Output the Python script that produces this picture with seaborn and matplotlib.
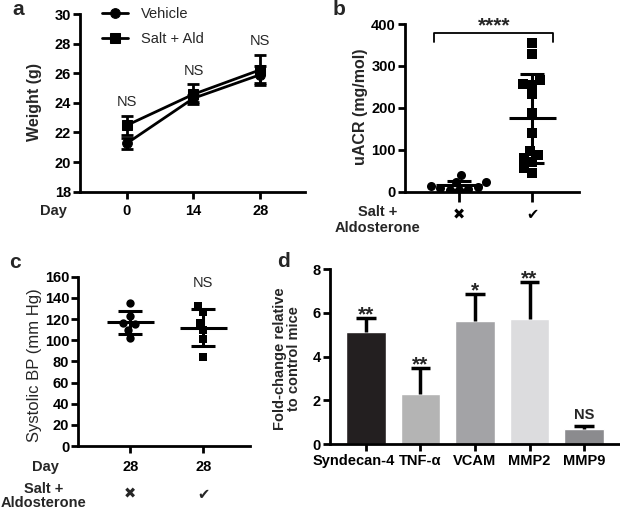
import numpy as np
import pandas as pd
import matplotlib
matplotlib.use("Agg")
import matplotlib.pyplot as plt
import matplotlib.transforms as mtransforms
import seaborn as sns

# a: body weight
days = [0, 14, 28]
vehicle_wt = [21.26, 24.31, 25.90]
vehicle_err = [0.38, 0.25, 0.57]
salt_wt = [22.48, 24.58, 26.23]
salt_err = [0.66, 0.68, 1.00]

# b: uACR
uacr_vehicle = [40, 23, 22, 14, 11, 9, 7, 5, 3]
uacr_salt = [355, 328, 266, 256, 254, 232, 188, 139, 98, 87, 80, 70, 56, 44]

# c: systolic BP at day 28
bp_vehicle = [134.8, 122.8, 116.5, 115.0, 110.0, 102.4]
bp_salt = [132.6, 126.3, 116.5, 109.3, 100.8, 84.4]

# d: fold change
genes = ["Syndecan-4", "TNF-α", "VCAM", "MMP2", "MMP9"]
fold_change = [5.15, 2.29, 5.62, 5.71, 0.67]
fold_err = [0.64, 1.21, 1.27, 1.73, 0.14]
gene_colors = ["#231f20", "#b4b4b4", "#a3a3a6", "#dcdcde", "#8b8b8e"]
gene_sig = ["**", "**", "*", "**", "NS"]

sns.set_style("ticks")
plt.rcParams["font.family"] = ["Liberation Sans", "DejaVu Sans"]
plt.rcParams.update({
    "font.weight": "bold",
    "axes.labelweight": "bold",
    "font.size": 10.5,
    "axes.linewidth": 2,
    "xtick.major.width": 2,
    "ytick.major.width": 2,
    "xtick.major.size": 5,
    "ytick.major.size": 5,
    "xtick.labelsize": 10.5,
    "ytick.labelsize": 10.5,
    "xtick.color": "black",
    "ytick.color": "black",
    "axes.edgecolor": "black",
})

W, H = 620, 511
fig = plt.figure(figsize=(W / 100, H / 100), dpi=100)


def box(l, r, t, b):
    return [l / W, 1 - b / H, (r - l) / W, (b - t) / H]


def fx(x, y):
    return x / W, 1 - y / H


def finish(ax, label, lx, ly, weight="bold", size=11.5):
    sns.despine(ax=ax)
    ax.set_ylabel(label, fontweight=weight, fontsize=size, va="center")
    ax.yaxis.set_label_coords(lx, ly)
    ax.set_xlabel("")
    ax.tick_params(axis="y", pad=1.5)


def mean_sd(ax, pos, vals):
    m, s = np.mean(vals), np.std(vals, ddof=1)
    ax.hlines(m, pos - 0.32, pos + 0.32, color="black", lw=2.2, zorder=4)
    ax.errorbar(pos, m, yerr=s, fmt="none", ecolor="black", elinewidth=2.2,
                capsize=8.5, capthick=2.2, zorder=4)


# ---- a ----
ax = fig.add_axes(box(80, 305, 14, 191.7))
df_a = pd.DataFrame({"Day": days * 2, "Weight": vehicle_wt + salt_wt,
                     "Group": ["Vehicle"] * 3 + ["Salt + Ald"] * 3})
sns.lineplot(data=df_a, x="Day", y="Weight", hue="Group", style="Group",
             markers={"Vehicle": "o", "Salt + Ald": "s"}, dashes=False,
             palette=["black", "black"], markersize=7, linewidth=2,
             markeredgecolor="black", ax=ax)
ax.errorbar(days, vehicle_wt, yerr=vehicle_err, fmt="none", ecolor="black",
            elinewidth=2, capsize=4, capthick=2)
ax.errorbar(days, salt_wt, yerr=salt_err, fmt="none", ecolor="black",
            elinewidth=2, capsize=4, capthick=2)
ax.set_xlim(-9.8, 37.4)
ax.set_ylim(18, 30)
ax.set_xticks(days)
ax.set_yticks(range(18, 31, 2))
ax.tick_params(axis="x", pad=4)
finish(ax, "Weight (g)", -0.2, 0.505)
ax.legend(frameon=False, loc="upper left", bbox_to_anchor=(0.098, 1.04),
          borderpad=0, borderaxespad=0, handlelength=1.8, handletextpad=0.9,
          labelspacing=0.75, prop={"weight": "normal", "size": 10.5})
for d, m, e in zip(days, salt_wt, salt_err):
    ax.text(d, m + e + 0.45, "NS", ha="center", va="bottom",
            fontweight="normal", fontsize=10.5)
fig.text(*fx(53, 211), "Day", ha="center", va="center", fontsize=10.5)

# ---- b ----
ax = fig.add_axes(box(405, 579, 24, 191.7))
df_b = pd.DataFrame({"treated": ["no"] * len(uacr_vehicle) + ["yes"] * len(uacr_salt),
                     "uACR": uacr_vehicle + uacr_salt})
order = ["no", "yes"]
sns.swarmplot(data=df_b[df_b.treated == "no"], x="treated", y="uACR", order=order,
              marker="o", color="black", size=6.5, ax=ax)
sns.swarmplot(data=df_b[df_b.treated == "yes"], x="treated", y="uACR", order=order,
              marker="s", color="black", size=6.5, ax=ax)
mean_sd(ax, 0, uacr_vehicle)
mean_sd(ax, 1, uacr_salt)
ax.set_xlim(-0.74, 1.64)
ax.set_ylim(0, 400)
ax.set_yticks(range(0, 401, 100))
ax.set_xticks([0, 1])
ax.set_xticklabels(["✖", "✔"])
ax.tick_params(axis="x", length=7, pad=5)
finish(ax, "uACR (mg/mol)", -0.253, 0.505)
ax.plot([-0.34, -0.34, 1.29, 1.29], [357, 379, 379, 357], color="black",
        lw=1.3, clip_on=False)
ax.text(0.475, 379 + 4, "****", ha="center", va="baseline", fontsize=15)
fig.text(*fx(378, 220), "Salt +\nAldosterone", ha="center", va="center",
         fontsize=10.5, linespacing=1.1, multialignment="center")

# ---- c ----
ax = fig.add_axes(box(78.3, 250, 276.7, 446))
df_c = pd.DataFrame({"treated": ["no"] * len(bp_vehicle) + ["yes"] * len(bp_salt),
                     "BP": bp_vehicle + bp_salt})
sns.swarmplot(data=df_c[df_c.treated == "no"], x="treated", y="BP", order=order,
              marker="o", color="black", size=6, ax=ax)
sns.swarmplot(data=df_c[df_c.treated == "yes"], x="treated", y="BP", order=order,
              marker="s", color="black", size=6, ax=ax)
mean_sd(ax, 0, bp_vehicle)
mean_sd(ax, 1, bp_salt)
ax.set_xlim(-0.71, 1.64)
ax.set_ylim(0, 160)
ax.set_yticks(range(0, 161, 20))
ax.set_xticks([0, 1])
ax.set_xticklabels(["28", "28"])
ax.tick_params(axis="x", pad=5)
finish(ax, "Systolic BP (mm Hg)", -0.258, 0.48, weight="normal", size=12)
ax.text(1, 154, "NS", ha="center", va="center", fontweight="normal", fontsize=10.5)
trans = mtransforms.blended_transform_factory(ax.transData, ax.transAxes)
for i, sym in enumerate(["✖", "✔"]):
    ax.text(i, -0.289, sym, transform=trans, ha="center", va="center", fontsize=10.5)
fig.text(*fx(45, 467), "Day", ha="center", va="center", fontsize=10.5)
fig.text(*fx(44, 496), "Salt +\nAldosterone", ha="center", va="center",
         fontsize=10.5, linespacing=1.0, multialignment="center")

# ---- d ----
ax = fig.add_axes(box(330, 620, 269.3, 444))
sns.barplot(x=genes, y=fold_change, hue=genes, palette=gene_colors, saturation=1,
            width=0.72, legend=False, ax=ax)
xpos = np.arange(len(genes))
tops = np.add(fold_change, fold_err)
ax.vlines(xpos, fold_change, tops, color="black", lw=2.5)
ax.hlines(tops, xpos - 0.18, xpos + 0.18, color="black", lw=2.5)
ax.set_xlim(-0.66, 4.66)
ax.set_ylim(0, 8)
ax.set_yticks(range(0, 9, 2))
ax.tick_params(axis="x", pad=2.5)
lab = ax.get_xticklabels()[0]
lab.set_transform(lab.get_transform() + mtransforms.ScaledTranslation(-12 / 100, 0, fig.dpi_scale_trans))
finish(ax, "Fold-change relative\nto control mice", -0.148, 0.487, size=10.5)
ax.yaxis.label.set_linespacing(1.05)
for i, (t, s) in enumerate(zip(tops, gene_sig)):
    if s == "NS":
        ax.text(i, t + 0.2, s, ha="center", va="bottom", fontsize=10.5)
    else:
        ax.text(i, t - 0.15, s, ha="center", va="baseline", fontsize=15)

# panel letters
for letter, x, y in [("a", 12, 15), ("b", 333, 15), ("c", 9, 268), ("d", 277, 267)]:
    fig.text(*fx(x, y), letter, ha="left", va="baseline", fontsize=15)

fig.savefig("out.png", dpi=100)
